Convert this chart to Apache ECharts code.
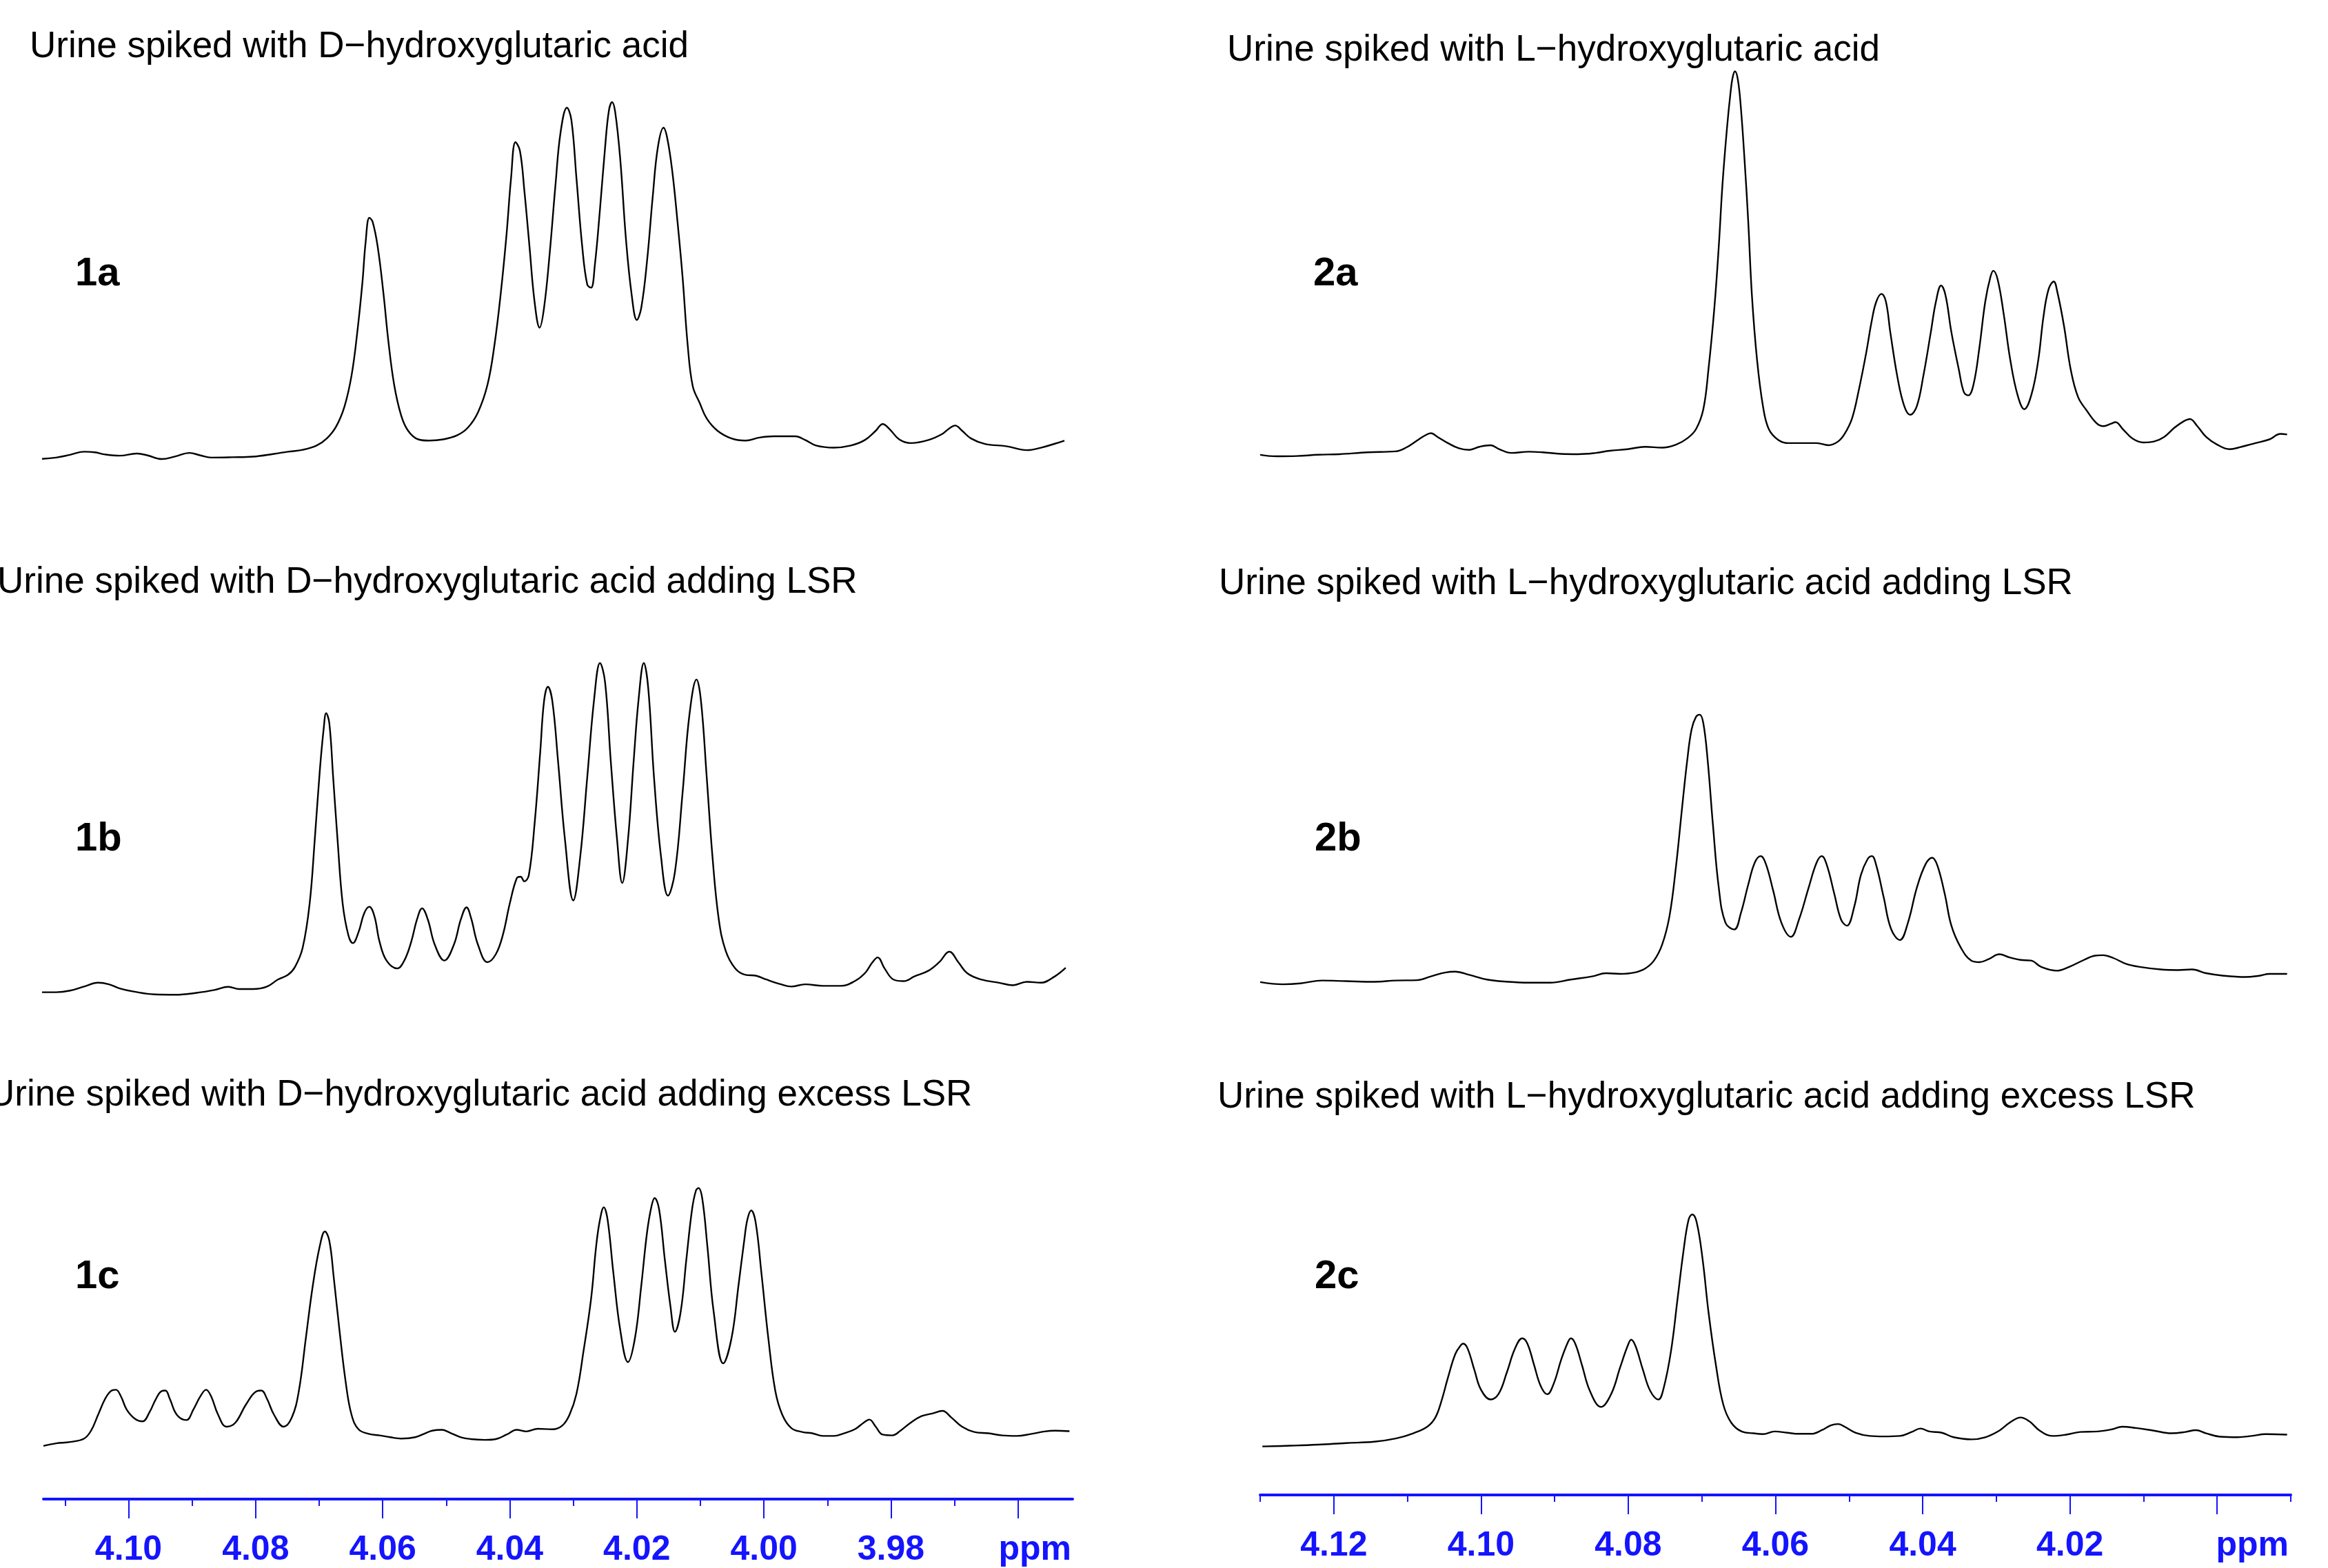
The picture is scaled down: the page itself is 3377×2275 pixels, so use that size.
<!DOCTYPE html>
<html>
<head>
<meta charset="utf-8">
<script src="https://cdn.jsdelivr.net/npm/echarts@6/dist/echarts.min.js"></script>
<style>
html,body{margin:0;padding:0;background:#fff;}
#chart{width:3377px;height:2275px;}
</style>
</head>
<body>
<div id="chart"></div>
<script>
// ---------- Data ----------
const panelTitles = [
  'Urine spiked with D\u2212hydroxyglutaric acid',
  'Urine spiked with D\u2212hydroxyglutaric acid adding LSR',
  'Urine spiked with D\u2212hydroxyglutaric acid adding excess LSR',
  'Urine spiked with L\u2212hydroxyglutaric acid',
  'Urine spiked with L\u2212hydroxyglutaric acid adding LSR',
  'Urine spiked with L\u2212hydroxyglutaric acid adding excess LSR'
];
const panelLabels = ['1a','1b','1c','2a','2b','2c'];

const leftMajorTicks = [3.96,3.98,4.00,4.02,4.04,4.06,4.08,4.10];
const leftMinorTicks = [3.97,3.99,4.01,4.03,4.05,4.07,4.09,4.11];
const rightMajorTicks = [4.00,4.02,4.04,4.06,4.08,4.10,4.12];
const rightMinorTicks = [3.99,4.01,4.03,4.05,4.07,4.09,4.11,4.13];

// chemical shift (ppm) and intensity (arbitrary units)
const shift1a = [4.1142,4.1114,4.1092,4.1070,4.1053,4.1037,4.1014,4.0987,4.0970,4.0948,4.0926,4.0904,4.0887,4.0870,4.0837,4.0804,4.0771,4.0749,4.0726,4.0704,4.0688,4.0673,4.0660,4.0649,4.0640,4.0632,4.0627,4.0621,4.0616,4.0608,4.0599,4.0591,4.0582,4.0571,4.0560,4.0544,4.0527,4.0505,4.0483,4.0466,4.0450,4.0435,4.0424,4.0414,4.0405,4.0398,4.0391,4.0384,4.0377,4.0369,4.0361,4.0353,4.0346,4.0337,4.0328,4.0320,4.0310,4.0303,4.0295,4.0286,4.0278,4.0272,4.0266,4.0258,4.0250,4.0244,4.0239,4.0234,4.0226,4.0217,4.0208,4.0200,4.0193,4.0184,4.0175,4.0167,4.0158,4.0152,4.0144,4.0136,4.0128,4.0120,4.0112,4.0101,4.0090,4.0073,4.0051,4.0029,4.0007,3.9985,3.9951,3.9935,3.9918,3.9890,3.9863,3.9841,3.9824,3.9813,3.9802,3.9787,3.9769,3.9741,3.9719,3.9708,3.9699,3.9688,3.9674,3.9652,3.9619,3.9586,3.9564,3.9542,3.9527];
const int1a = [0.8,1.3,2.2,3.2,3.0,2.3,1.9,2.6,2.0,0.8,1.7,2.8,2.0,1.3,1.4,1.6,2.5,3.2,3.8,5.2,7.5,11.5,18.0,28.0,42.0,58.0,71.0,79.2,78.0,70.0,55.0,39.0,25.0,15.0,10.0,7.2,6.8,7.2,8.5,11.0,16.0,25.0,38.0,55.0,74.0,92.0,103.8,101.0,88.0,70.0,52.0,43.5,50.0,68.0,90.0,107.0,115.0,111.0,92.0,70.0,57.5,56.5,64.0,82.0,102.0,114.0,116.8,113.5,98.0,72.0,54.0,46.0,50.0,65.0,86.0,102.0,108.5,105.0,94.0,78.0,60.0,38.0,24.5,19.0,14.0,10.0,7.5,6.8,7.8,8.2,8.2,7.0,5.2,4.5,5.2,7.0,10.0,12.2,10.5,7.2,6.0,7.0,9.0,10.8,11.7,10.0,7.5,5.7,5.0,3.7,4.5,5.8,6.8];

const shift1b = [4.1142,4.1114,4.1092,4.1070,4.1048,4.1031,4.1014,4.0992,4.0959,4.0926,4.0893,4.0865,4.0843,4.0826,4.0804,4.0782,4.0765,4.0749,4.0738,4.0726,4.0715,4.0707,4.0699,4.0693,4.0689,4.0684,4.0678,4.0671,4.0663,4.0654,4.0647,4.0638,4.0629,4.0621,4.0613,4.0605,4.0594,4.0577,4.0566,4.0555,4.0546,4.0538,4.0529,4.0518,4.0503,4.0488,4.0477,4.0468,4.0461,4.0450,4.0435,4.0422,4.0411,4.0400,4.0389,4.0383,4.0377,4.0370,4.0361,4.0352,4.0346,4.0340,4.0333,4.0324,4.0313,4.0300,4.0289,4.0278,4.0267,4.0258,4.0250,4.0241,4.0231,4.0223,4.0214,4.0205,4.0197,4.0189,4.0182,4.0173,4.0162,4.0151,4.0140,4.0128,4.0117,4.0106,4.0099,4.0090,4.0081,4.0071,4.0060,4.0045,4.0029,4.0012,3.9996,3.9973,3.9957,3.9935,3.9907,3.9879,3.9857,3.9841,3.9829,3.9821,3.9810,3.9796,3.9780,3.9763,3.9741,3.9724,3.9708,3.9694,3.9680,3.9658,3.9630,3.9608,3.9586,3.9564,3.9542,3.9525];
const int1b = [2.0,2.0,2.5,3.8,5.0,4.5,3.2,2.2,1.3,1.2,1.8,2.7,3.7,3.0,3.0,3.8,6.0,7.5,10.0,16.0,30.0,50.0,72.0,85.0,90.2,87.0,70.0,50.0,30.0,20.0,17.5,21.0,27.0,29.0,26.0,18.0,12.0,9.5,12.0,18.0,25.0,28.5,25.0,17.0,12.0,17.0,25.0,28.8,25.5,17.0,11.5,14.0,20.0,30.0,38.0,38.5,37.0,39.0,55.0,78.0,94.0,98.5,94.0,75.0,50.0,31.0,45.0,70.0,95.0,106.0,100.0,75.0,50.0,36.5,50.0,75.0,95.0,106.0,98.0,70.0,45.0,32.5,40.0,65.0,90.0,100.8,94.0,70.0,45.0,25.0,15.0,9.5,7.5,7.2,6.0,4.5,3.8,4.5,4.0,4.0,5.5,8.0,11.5,13.0,9.5,6.0,5.5,7.0,8.8,11.5,14.8,11.5,8.0,6.0,5.0,4.2,5.3,5.0,7.0,9.7];

const shift1c = [4.1134,4.1114,4.1092,4.1070,4.1059,4.1048,4.1037,4.1028,4.1020,4.1012,4.1003,4.0990,4.0978,4.0967,4.0957,4.0948,4.0942,4.0935,4.0924,4.0909,4.0898,4.0887,4.0878,4.0870,4.0859,4.0846,4.0832,4.0815,4.0798,4.0791,4.0782,4.0771,4.0756,4.0743,4.0732,4.0721,4.0710,4.0699,4.0691,4.0684,4.0677,4.0668,4.0658,4.0649,4.0638,4.0621,4.0605,4.0588,4.0571,4.0549,4.0533,4.0522,4.0507,4.0494,4.0477,4.0461,4.0439,4.0422,4.0405,4.0389,4.0374,4.0356,4.0333,4.0317,4.0306,4.0295,4.0284,4.0272,4.0264,4.0258,4.0252,4.0246,4.0237,4.0226,4.0214,4.0203,4.0193,4.0184,4.0177,4.0172,4.0165,4.0156,4.0147,4.0140,4.0131,4.0122,4.0113,4.0107,4.0103,4.0097,4.0089,4.0079,4.0064,4.0051,4.0040,4.0031,4.0026,4.0020,4.0013,4.0004,3.9993,3.9982,3.9971,3.9957,3.9940,3.9924,3.9907,3.9890,3.9874,3.9857,3.9843,3.9834,3.9824,3.9813,3.9798,3.9785,3.9769,3.9752,3.9735,3.9719,3.9705,3.9688,3.9669,3.9647,3.9625,3.9602,3.9580,3.9558,3.9542,3.9519];
const int1c = [4.2,5.2,5.7,7.0,10.0,16.0,22.0,25.0,25.5,23.0,18.0,14.5,13.5,17.0,22.0,25.0,25.2,22.0,16.0,14.0,18.0,23.0,25.5,23.0,16.0,11.5,13.0,20.0,25.0,25.2,22.0,16.0,11.5,15.0,25.0,45.0,65.0,80.0,85.5,82.0,68.0,48.0,28.0,16.0,10.5,8.7,8.2,7.5,7.0,7.5,9.0,10.0,10.3,9.2,7.5,6.8,6.5,6.8,8.5,10.3,9.7,10.7,10.5,12.0,16.0,24.0,40.0,60.0,80.0,90.0,94.7,90.0,70.0,48.0,36.0,45.0,65.0,85.0,95.0,98.2,94.0,75.0,57.0,47.5,55.0,75.0,94.0,101.0,102.0,98.0,80.0,55.0,35.5,45.0,65.0,82.0,90.0,93.5,89.0,70.0,45.0,25.0,16.0,11.0,9.5,9.0,8.0,8.0,9.0,10.5,13.0,14.2,11.5,8.5,8.2,10.0,13.0,15.5,16.5,17.5,15.0,11.5,9.5,9.0,8.2,8.0,8.7,9.7,10.0,9.8];

const shift2a = [4.1300,4.1278,4.1250,4.1221,4.1192,4.1154,4.1116,4.1102,4.1087,4.1076,4.1068,4.1059,4.1045,4.1030,4.1016,4.1002,4.0987,4.0975,4.0959,4.0935,4.0916,4.0892,4.0868,4.0844,4.0825,4.0801,4.0777,4.0754,4.0735,4.0720,4.0708,4.0698,4.0691,4.0683,4.0677,4.0672,4.0666,4.0661,4.0658,4.0655,4.0651,4.0647,4.0642,4.0637,4.0632,4.0625,4.0617,4.0609,4.0596,4.0582,4.0563,4.0544,4.0528,4.0515,4.0506,4.0496,4.0487,4.0477,4.0469,4.0463,4.0456,4.0450,4.0444,4.0434,4.0425,4.0417,4.0408,4.0399,4.0389,4.0382,4.0375,4.0369,4.0361,4.0351,4.0344,4.0338,4.0331,4.0323,4.0315,4.0308,4.0304,4.0298,4.0290,4.0281,4.0271,4.0262,4.0252,4.0243,4.0236,4.0229,4.0222,4.0217,4.0208,4.0199,4.0189,4.0177,4.0164,4.0155,4.0145,4.0138,4.0128,4.0115,4.0100,4.0086,4.0072,4.0058,4.0046,4.0037,4.0027,4.0015,4.0000,3.9983,3.9967,3.9948,3.9929,3.9914,3.9905];
const int2a = [2.2,1.7,1.8,2.2,2.4,3.0,3.3,4.5,6.8,8.5,9.2,8.0,6.0,4.3,3.8,4.8,5.3,4.0,2.8,3.2,3.0,2.5,2.4,2.8,3.5,4.0,4.8,4.5,5.5,7.5,10.5,17.0,30.0,50.0,70.0,90.0,108.0,120.0,125.0,126.8,124.0,115.0,98.0,78.0,54.0,33.0,18.0,10.5,7.0,6.0,6.0,6.0,5.3,6.5,9.0,14.0,23.0,35.0,46.0,52.0,54.5,52.0,42.0,27.0,18.0,15.2,18.0,28.0,42.0,52.0,57.2,54.0,42.0,30.0,22.5,21.5,25.0,37.0,52.0,60.0,62.0,59.0,48.0,33.0,21.5,17.0,22.0,33.0,47.0,56.0,58.5,55.0,44.0,30.0,21.0,16.5,12.5,11.5,12.2,12.8,10.5,7.5,6.2,6.5,8.0,11.0,13.0,13.8,11.5,8.0,5.5,4.0,4.8,6.0,7.2,9.0,8.8];

const shift2b = [4.1300,4.1269,4.1245,4.1216,4.1183,4.1145,4.1116,4.1087,4.1068,4.1049,4.1035,4.1016,4.0992,4.0963,4.0935,4.0906,4.0878,4.0849,4.0830,4.0811,4.0792,4.0777,4.0765,4.0754,4.0744,4.0735,4.0727,4.0720,4.0714,4.0708,4.0703,4.0698,4.0692,4.0685,4.0677,4.0668,4.0656,4.0647,4.0637,4.0628,4.0620,4.0613,4.0603,4.0592,4.0579,4.0568,4.0555,4.0544,4.0537,4.0530,4.0520,4.0511,4.0503,4.0493,4.0484,4.0475,4.0469,4.0463,4.0453,4.0443,4.0431,4.0420,4.0408,4.0396,4.0387,4.0380,4.0370,4.0361,4.0348,4.0334,4.0323,4.0310,4.0296,4.0282,4.0267,4.0253,4.0239,4.0218,4.0201,4.0181,4.0167,4.0155,4.0141,4.0124,4.0105,4.0077,4.0053,4.0034,4.0015,3.9991,3.9962,3.9943,3.9929,3.9905];
const int2b = [5.2,4.5,4.8,5.7,5.5,5.3,5.7,5.8,7.0,8.2,8.5,7.5,6.0,5.3,5.0,5.0,6.0,7.0,8.0,7.8,8.2,9.5,12.0,17.0,26.0,42.0,60.0,75.0,85.0,89.0,89.7,87.0,75.0,55.0,35.0,24.0,21.8,27.0,36.0,43.0,45.0,42.5,34.0,24.0,19.5,25.0,35.0,43.0,45.0,42.0,33.0,25.0,23.0,29.0,39.0,44.0,45.0,42.0,32.0,22.0,18.5,24.0,35.0,42.5,44.5,42.0,33.0,23.0,16.0,12.0,11.5,12.5,14.0,13.0,12.2,12.0,10.0,8.8,10.0,12.2,13.5,13.7,12.8,11.0,10.0,9.2,9.0,9.2,8.0,7.2,6.8,7.2,7.8,7.8];

const shift2c = [4.1297,4.1259,4.1221,4.1183,4.1145,4.1116,4.1092,4.1073,4.1062,4.1054,4.1045,4.1035,4.1027,4.1024,4.1018,4.1009,4.1000,4.0987,4.0976,4.0965,4.0954,4.0944,4.0937,4.0928,4.0919,4.0910,4.0901,4.0891,4.0882,4.0878,4.0872,4.0863,4.0852,4.0837,4.0823,4.0811,4.0801,4.0796,4.0790,4.0780,4.0770,4.0759,4.0752,4.0742,4.0733,4.0725,4.0718,4.0713,4.0707,4.0699,4.0691,4.0681,4.0671,4.0660,4.0646,4.0630,4.0617,4.0601,4.0584,4.0568,4.0551,4.0537,4.0525,4.0515,4.0506,4.0491,4.0472,4.0453,4.0431,4.0415,4.0403,4.0391,4.0374,4.0358,4.0334,4.0315,4.0296,4.0282,4.0267,4.0255,4.0241,4.0224,4.0205,4.0186,4.0162,4.0143,4.0129,4.0110,4.0086,4.0062,4.0043,4.0029,4.0015,3.9996,3.9972,3.9953,3.9934,3.9905];
const int2c = [4.0,4.3,4.7,5.3,5.8,7.0,9.0,11.5,15.0,21.0,30.0,39.0,42.5,43.0,41.0,33.0,25.5,21.8,24.0,32.0,41.0,45.0,43.0,35.0,27.0,23.8,28.0,37.0,43.5,45.0,43.0,35.0,25.0,19.0,24.0,34.0,42.0,44.5,42.0,33.0,25.0,21.8,26.0,40.0,60.0,78.0,90.0,92.0,89.0,75.0,55.0,35.0,20.0,13.0,9.7,9.0,8.7,9.7,9.2,8.8,8.8,10.2,12.0,12.5,11.5,9.2,8.0,7.8,8.0,9.5,10.8,9.7,9.2,7.5,6.7,7.5,10.0,13.0,15.0,13.5,10.0,8.0,8.5,9.5,9.7,10.5,11.5,11.0,10.0,9.0,9.5,10.2,9.0,7.7,7.5,8.0,8.7,8.5];

// ---------- Layout ----------
const spectra = [
  [shift1a,int1a],[shift1b,int1b],[shift1c,int1c],
  [shift2a,int2a],[shift2b,int2b],[shift2c,int2c]
];
const rows = [{top:0,height:700},{top:760,height:720},{top:1540,height:600}];
const cols = [
  {left:63, width:1493, min:3.9514, max:4.1134, offset:35, major:leftMajorTicks, minor:leftMinorTicks, ppmAt:3.96, ppmPad:49, labelMargin:49},
  {left:1828, width:1495, min:3.99, max:4.13, offset:29, major:rightMajorTicks, minor:rightMinorTicks, ppmAt:4.00, ppmPad:102, labelMargin:49}
];
const titlePos = [[43,42],[-4,819],[-17,1563],[1780,47],[1768,821],[1766,1566]];
const labelPos = [[109,369],[109,1189],[109,1824],[1905,369],[1907,1189],[1907,1824]];

const BLUE = '#1414ff';
const FONT = 'Liberation Sans';

const grid = [], xAxis = [], yAxis = [], series = [], title = [];
for (let c = 0; c < 2; c++) {
  for (let r = 0; r < 3; r++) {
    const i = c*3 + r;
    const col = cols[c], row = rows[r];
    grid.push({left:col.left, width:col.width, top:row.top, height:row.height, outerBoundsMode:'none', containLabel:false});
    const isBottom = (r === 2);
    xAxis.push({
      type:'value', gridIndex:i, min:col.min, max:col.max, inverse:true, position:'bottom',
      show:isBottom, offset:col.offset,
      splitLine:{show:false},
      axisLine:{show:true, onZero:false, lineStyle:{color:BLUE, width:4}},
      axisTick:{show:true, length:28, customValues:col.major, lineStyle:{color:BLUE, width:2}},
      axisLabel:{
        show:true, customValues:col.major, margin:col.labelMargin,
        fontFamily:FONT, fontSize:50, fontWeight:'bold', color:BLUE,
        formatter:(v => Math.abs(v - col.ppmAt) < 1e-6 ? '{p|ppm}' : v.toFixed(2)),
        rich:{p:{fontFamily:FONT, fontSize:50, fontWeight:'bold', color:BLUE, padding:[0,0,0,col.ppmPad]}}
      }
    });
    yAxis.push({type:'value', gridIndex:i, min:-6.8, max:150, show:false});
    const [sx, sy] = spectra[i];
    const n = Math.min(sx.length, sy.length);
    const data = [];
    for (let k = 0; k < n; k++) data.push([sx[k], sy[k]]);
    series.push({
      type:'line', xAxisIndex:i, yAxisIndex:i, data:data,
      showSymbol:false, smooth:0.4, clip:false, silent:true,
      lineStyle:{color:'#000', width:2.4, join:'round'}
    });
    title.push({text:panelTitles[i], left:titlePos[i][0], top:titlePos[i][1], padding:0,
      textStyle:{fontFamily:FONT, fontSize:53, fontWeight:'normal', color:'#000'}});
    title.push({text:panelLabels[i], left:labelPos[i][0], top:labelPos[i][1], padding:0,
      textStyle:{fontFamily:FONT, fontSize:58, fontWeight:'bold', color:'#000'}});
  }
}
// minor tick axes for the two bottom panels
for (let c = 0; c < 2; c++) {
  const col = cols[c];
  xAxis.push({
    type:'value', gridIndex:c*3+2, min:col.min, max:col.max, inverse:true, position:'bottom',
    offset:col.offset, splitLine:{show:false},
    axisLine:{show:false, onZero:false},
    axisTick:{show:true, length:10, customValues:col.minor, lineStyle:{color:BLUE, width:2}},
    axisLabel:{show:false}
  });
}

const chart = echarts.init(document.getElementById('chart'), null, {renderer:'canvas'});
chart.setOption({
  animation:false,
  backgroundColor:'#fff',
  title:title, grid:grid, xAxis:xAxis, yAxis:yAxis, series:series
});
</script>
</body>
</html>
